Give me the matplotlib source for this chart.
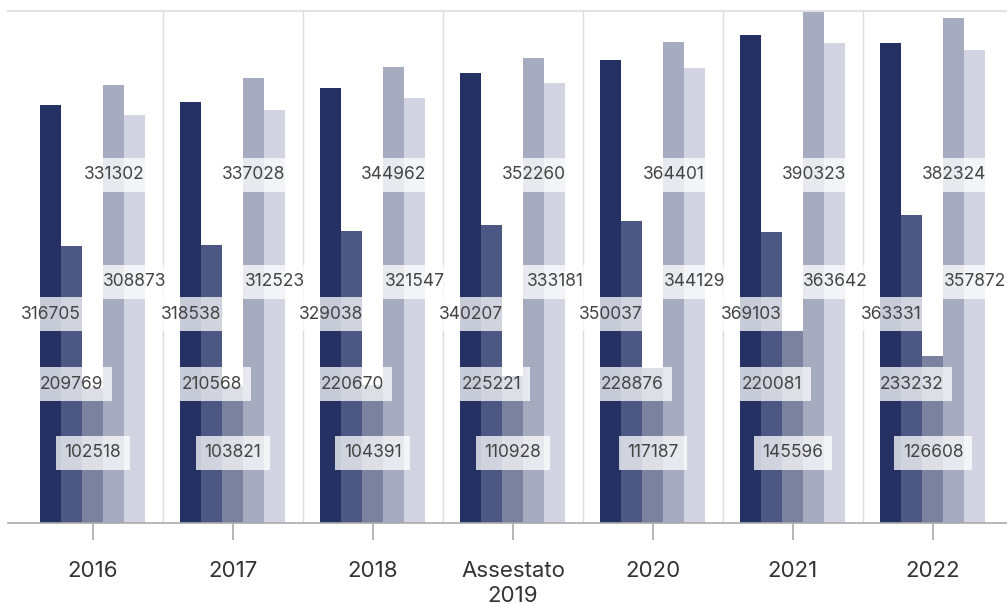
import matplotlib.pyplot as plt
import numpy as np

plt.rcParams['font.family'] = ['Inter', 'DejaVu Sans']

# categories and series values
years = ['2016', '2017', '2018', 'Assestato\n2019', '2020', '2021', '2022']
serie_1 = [316705, 318538, 329038, 340207, 350037, 369103, 363331]
serie_2 = [209769, 210568, 220670, 225221, 228876, 220081, 233232]
serie_3 = [102518, 103821, 104391, 110928, 117187, 145596, 126608]
serie_4 = [331302, 337028, 344962, 352260, 364401, 390323, 382324]
serie_5 = [308873, 312523, 321547, 333181, 344129, 363642, 357872]

series = [serie_1, serie_2, serie_3, serie_4, serie_5]
colors = ['#253063', '#4c5783', '#7a82a0', '#a6abc0', '#d2d5e1']
# fixed heights (axes fraction) where the value labels of each series sit
label_y = [0.408, 0.271, 0.137, 0.680, 0.471]

W, H = 1007, 604
fig = plt.figure(figsize=(W / 100, H / 100), dpi=100)
ax = fig.add_axes([8 / W, (H - 523) / H, (W - 8) / W, (523 - 11) / H])

x = np.arange(len(years))
bw = 0.15
for i, vals in enumerate(series):
    xs = x + (i - 2) * bw
    ax.bar(xs, vals, width=bw, color=colors[i], zorder=2, linewidth=0)
    for xi, v in zip(xs, vals):
        ax.text(xi, label_y[i], str(v), transform=ax.get_xaxis_transform(),
                ha='center', va='center', fontsize=12.5, color='#444444', zorder=5,
                bbox=dict(boxstyle='square,pad=0.5', facecolor='white',
                          alpha=0.75, edgecolor='none'))

# separators between groups
for b in x[:-1] + 0.5:
    ax.axvline(b, color='#dddddd', linewidth=1, zorder=1)

ax.set_xlim(-0.607, 6.529)
ax.set_ylim(0, 387500)

for s in ['left', 'right']:
    ax.spines[s].set_visible(False)
ax.spines['top'].set_color('#e2e2e2')
ax.spines['top'].set_linewidth(1.5)
ax.spines['top'].set_zorder(3)
ax.spines['bottom'].set_color('#aaaaaa')
ax.spines['bottom'].set_linewidth(1.2)

ax.set_yticks([])
ax.set_xticks(x)
ax.set_xticklabels(years, fontsize=16, color='#333333', linespacing=1.3)
ax.tick_params(axis='x', length=12, width=1.2, color='#aaaaaa', pad=15.5)

plt.savefig('out.png', dpi=100)
